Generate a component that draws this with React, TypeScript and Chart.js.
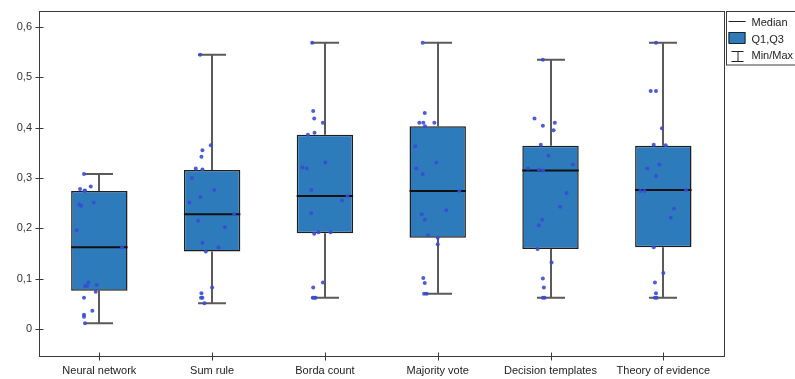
import React, { useEffect, useRef } from 'react';
import { Chart, registerables } from 'chart.js';

Chart.register(...registerables);

const categories = ['Neural network', 'Sum rule', 'Borda count', 'Majority vote', 'Decision templates', 'Theory of evidence'];
const minValues = [0.011, 0.051, 0.062, 0.070, 0.062, 0.062];
const q1Values = [0.0755, 0.154, 0.190, 0.181, 0.159, 0.162];
const medianValues = [0.162, 0.228, 0.264, 0.274, 0.315, 0.276];
const q3Values = [0.274, 0.316, 0.386, 0.403, 0.364, 0.364];
const maxValues = [0.308, 0.545, 0.569, 0.569, 0.535, 0.569];
const yTickValues = [0, 0.1, 0.2, 0.3, 0.4, 0.5, 0.6];
const legendLabels = ['Median', 'Q1,Q3', 'Min/Max'];

const neuralPoints = [0.308, 0.278, 0.275, 0.274, 0.283, 0.247, 0.245, 0.251, 0.196, 0.162, 0.092, 0.085, 0.085, 0.087, 0.074, 0.062, 0.036, 0.028, 0.024, 0.011];
const neuralJitter = [-0.136, -0.171, -0.127, -0.133, -0.076, -0.177, -0.162, -0.05, -0.2, 0.201, -0.098, -0.127, -0.109, -0.023, -0.032, -0.136, -0.062, -0.136, -0.136, -0.127];
const sumPoints = [0.545, 0.365, 0.355, 0.342, 0.319, 0.317, 0.3, 0.276, 0.262, 0.251, 0.228, 0.215, 0.202, 0.171, 0.162, 0.154, 0.082, 0.071, 0.062, 0.062, 0.051];
const sumJitter = [-0.106, -0.012, -0.086, -0.095, -0.145, -0.086, -0.18, 0.018, -0.104, -0.201, 0.195, -0.124, 0.113, -0.086, 0.056, -0.056, 0, -0.095, -0.098, -0.086, -0.068];
const bordaPoints = [0.569, 0.433, 0.418, 0.41, 0.386, 0.39, 0.331, 0.321, 0.319, 0.276, 0.264, 0.255, 0.23, 0.189, 0.192, 0.192, 0.092, 0.082, 0.062, 0.062, 0.062];
const bordaJitter = [-0.113, -0.104, -0.095, -0.018, -0.151, -0.092, 0.003, -0.199, -0.16, -0.121, 0.2, 0.151, -0.121, -0.095, -0.057, 0.05, -0.018, -0.104, -0.107, -0.095, -0.083];
const majorityPoints = [0.569, 0.429, 0.41, 0.41, 0.403, 0.41, 0.363, 0.331, 0.319, 0.308, 0.274, 0.236, 0.228, 0.217, 0.186, 0.181, 0.168, 0.101, 0.091, 0.07, 0.07];
const majorityJitter = [-0.133, -0.115, -0.163, -0.128, -0.113, -0.03, -0.199, -0.012, -0.19, -0.133, 0.191, 0.076, -0.142, -0.115, -0.086, 0, 0, -0.128, -0.115, -0.121, -0.098];
const decisionPoints = [0.535, 0.418, 0.41, 0.404, 0.395, 0.366, 0.344, 0.327, 0.319, 0.317, 0.315, 0.27, 0.243, 0.217, 0.206, 0.159, 0.132, 0.1, 0.082, 0.062, 0.062];
const decisionJitter = [-0.068, -0.142, 0.038, -0.068, 0.027, -0.086, -0.018, 0.198, -0.199, -0.104, -0.066, 0.142, 0.085, -0.074, -0.104, -0.115, 0.009, -0.068, -0.059, -0.068, -0.053];
const theoryPoints = [0.569, 0.473, 0.473, 0.399, 0.366, 0.365, 0.327, 0.319, 0.304, 0.274, 0.274, 0.276, 0.239, 0.221, 0.162, 0.111, 0.092, 0.071, 0.062, 0.062];
const theoryJitter = [-0.065, -0.112, -0.065, -0.012, -0.085, 0.021, -0.035, -0.142, -0.065, -0.204, -0.168, 0.201, 0.095, 0.066, -0.085, 0, -0.074, -0.065, -0.074, -0.059];

const pointSets = [neuralPoints, sumPoints, bordaPoints, majorityPoints, decisionPoints, theoryPoints];
const jitterSets = [neuralJitter, sumJitter, bordaJitter, majorityJitter, decisionJitter, theoryJitter];

const BOX_FILL = '#2e7bbb';
const BOX_BORDER = '#1e1e1e';
const WHISKER = '#5a5a5a';
const FRAME = '#3a3a3a';
const FONT = '"Liberation Sans", Arial, sans-serif';

const boxPlugin = {
  id: 'boxExtras',
  beforeDatasetsDraw(chart: any) {
    const ctx = chart.ctx;
    const xs = chart.scales.x;
    const ys = chart.scales.y;
    ctx.save();
    ctx.strokeStyle = WHISKER;
    ctx.lineWidth = 2;
    categories.forEach((_, i) => {
      const x = Math.round(xs.getPixelForValue(i));
      const yMax = ys.getPixelForValue(maxValues[i]);
      const yMin = ys.getPixelForValue(minValues[i]);
      const yQ1 = ys.getPixelForValue(q1Values[i]);
      const yQ3 = ys.getPixelForValue(q3Values[i]);
      ctx.beginPath();
      ctx.moveTo(x, yMax);
      ctx.lineTo(x, yQ3);
      ctx.moveTo(x, yQ1);
      ctx.lineTo(x, yMin);
      ctx.moveTo(x - 14, yMax);
      ctx.lineTo(x + 14, yMax);
      ctx.moveTo(x - 14, yMin);
      ctx.lineTo(x + 14, yMin);
      ctx.stroke();
    });
    ctx.restore();
  },
  afterDatasetDraw(chart: any, args: any) {
    if (args.meta.type !== 'bar') return;
    const ctx = chart.ctx;
    const ys = chart.scales.y;
    ctx.save();
    ctx.strokeStyle = '#111';
    ctx.lineWidth = 2;
    args.meta.data.forEach((el: any, i: number) => {
      const y = ys.getPixelForValue(medianValues[i]);
      ctx.beginPath();
      ctx.moveTo(el.x - el.width / 2, y);
      ctx.lineTo(el.x + el.width / 2, y);
      ctx.stroke();
    });
    ctx.restore();
  },
  afterDraw(chart: any) {
    const ctx = chart.ctx;
    const a = chart.chartArea;
    const xs = chart.scales.x;
    const ys = chart.scales.y;
    ctx.save();
    ctx.strokeStyle = FRAME;
    ctx.lineWidth = 1;
    const L = Math.round(a.left) - 0.5;
    const T = Math.round(a.top) + 0.5;
    const R = Math.round(a.right) + 0.5;
    const B = Math.round(a.bottom) + 0.5;
    ctx.strokeRect(L, T, R - L, B - T);
    // crossing tick marks
    ctx.beginPath();
    xs.ticks.forEach((t: any) => {
      const x = Math.round(xs.getPixelForValue(t.value)) + 0.5;
      ctx.moveTo(x, B - 4);
      ctx.lineTo(x, B + 4);
    });
    ys.ticks.forEach((t: any) => {
      const y = Math.round(ys.getPixelForValue(t.value)) + 0.5;
      ctx.moveTo(L - 4, y);
      ctx.lineTo(L + 4, y);
    });
    ctx.stroke();
    // legend
    const lx = R + 2;
    ctx.strokeRect(lx, T, 90, 65 - T);
    ctx.font = '11px ' + FONT;
    ctx.fillStyle = '#222';
    ctx.textBaseline = 'middle';
    ctx.textAlign = 'left';
    ctx.strokeStyle = '#222';
    ctx.beginPath();
    ctx.moveTo(lx + 2, 21.5);
    ctx.lineTo(lx + 19, 21.5);
    ctx.stroke();
    ctx.fillText(legendLabels[0], lx + 25, 23);
    ctx.fillStyle = BOX_FILL;
    ctx.fillRect(lx + 2, 32, 17, 11);
    ctx.strokeRect(lx + 2.5, 32.5, 16, 11);
    ctx.fillStyle = '#222';
    ctx.fillText(legendLabels[1], lx + 25, 40);
    ctx.beginPath();
    ctx.moveTo(lx + 5, 51.5);
    ctx.lineTo(lx + 17, 51.5);
    ctx.moveTo(lx + 11.5, 51.5);
    ctx.lineTo(lx + 11.5, 61.5);
    ctx.moveTo(lx + 5, 61.5);
    ctx.lineTo(lx + 17, 61.5);
    ctx.stroke();
    ctx.fillText(legendLabels[2], lx + 25, 56);
    ctx.restore();
  },
};

export default function App() {
  const ref = useRef<HTMLCanvasElement>(null);
  useEffect(() => {
    if (!ref.current) return;
    const scatterData: { x: number; y: number }[] = [];
    pointSets.forEach((pts, i) => {
      pts.forEach((v, j) => scatterData.push({ x: i + jitterSets[i][j], y: v }));
    });
    const chart = new Chart(ref.current, {
      type: 'bar',
      data: {
        datasets: [
          {
            type: 'bar',
            order: 1,
            data: categories.map((_, i) => ({ x: i, y: [q1Values[i], q3Values[i]] })) as any,
            backgroundColor: BOX_FILL,
            borderColor: BOX_BORDER,
            borderWidth: 1.5,
            borderSkipped: false,
            barPercentage: 0.5,
            categoryPercentage: 1,
          } as any,
          {
            type: 'scatter',
            order: 0,
            data: scatterData,
            backgroundColor: 'rgba(55, 75, 215, 0.9)',
            borderWidth: 0,
            pointRadius: 2,
          } as any,
        ],
      },
      options: {
        responsive: false,
        animation: false,
        layout: { padding: { top: 11, right: 71, left: 0, bottom: 0 } },
        plugins: { legend: { display: false }, tooltip: { enabled: false } },
        scales: {
          x: {
            type: 'linear',
            min: -0.526,
            max: 5.538,
            offset: false,
            afterBuildTicks: (s: any) => {
              s.ticks = categories.map((_, i) => ({ value: i }));
            },
            afterFit: (s: any) => {
              s.height = 23;
            },
            grid: { display: false, drawTicks: false, tickLength: 0 },
            border: { display: false },
            ticks: {
              padding: 8,
              autoSkip: false,
              maxRotation: 0,
              color: '#222',
              font: { family: FONT, size: 11 },
              callback: (_v: any, i: number) => categories[i],
            },
          } as any,
          y: {
            type: 'linear',
            min: -0.054,
            max: 0.632,
            afterBuildTicks: (s: any) => {
              s.ticks = yTickValues.map((v) => ({ value: v }));
            },
            afterFit: (s: any) => {
              s.width = 40;
              s.paddingTop = 0;
              s.paddingBottom = 0;
            },
            grid: { display: false, drawTicks: false, tickLength: 0 },
            border: { display: false },
            ticks: {
              padding: 8,
              color: '#333',
              font: { family: FONT, size: 11 },
              callback: (v: any) => (v === 0 ? '0' : Number(v).toFixed(1).replace('.', ',')),
            },
          } as any,
        },
      },
      plugins: [boxPlugin],
    });
    return () => chart.destroy();
  }, []);
  return (
    <div style={{ position: 'absolute', left: 0, top: 0, width: 795, height: 379, background: '#fff' }}>
      <canvas ref={ref} width={795} height={379} style={{ display: 'block' }} />
    </div>
  );
}
